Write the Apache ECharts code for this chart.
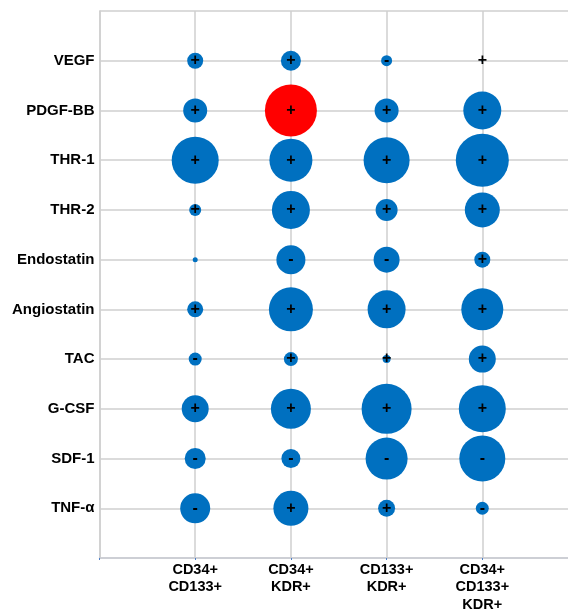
<!DOCTYPE html>
<html>
<head>
<meta charset="utf-8">
<script src="https://cdn.jsdelivr.net/npm/echarts@6/dist/echarts.min.js"></script>
<style>
  html, body { margin: 0; padding: 0; background: #fff; }
  #chart { width: 568px; height: 610px; }
</style>
</head>
<body>
<div id="chart"></div>
<script>
// cell populations (x axis) and angiogenic factors (y axis)
const populations = ["CD34+\nCD133+", "CD34+\nKDR+", "CD133+\nKDR+", "CD34+\nCD133+\nKDR+"];
const factors = ["VEGF", "PDGF-BB", "THR-1", "THR-2", "Endostatin", "Angiostatin", "TAC", "G-CSF", "SDF-1", "TNF-\u03b1"];

// bubble magnitude per population, in factor order
const cd34Cd133 = [16, 24, 47, 12, 5, 16, 13, 27, 21, 30];
const cd34Kdr = [20, 52, 43, 38, 29, 44, 14, 40, 19, 35];
const cd133Kdr = [11, 24, 46, 22, 26, 38, 8, 50, 42, 17];
const cd34Cd133Kdr = [2, 38, 53, 35, 16, 42, 27, 47, 46, 13];

// direction of change per population
const signCd34Cd133 = ["+", "+", "+", "+", "", "+", "-", "+", "-", "-"];
const signCd34Kdr = ["+", "+", "+", "+", "-", "+", "+", "+", "-", "+"];
const signCd133Kdr = ["-", "+", "+", "+", "-", "+", "+", "+", "-", "+"];
const signCd34Cd133Kdr = ["+", "+", "+", "+", "+", "+", "+", "+", "-", "-"];

// [factor index, population index] of the highlighted cell
const highlighted = [[1, 1]];

const magnitudes = [cd34Cd133, cd34Kdr, cd133Kdr, cd34Cd133Kdr];
const signs = [signCd34Cd133, signCd34Kdr, signCd133Kdr, signCd34Cd133Kdr];

const BLUE = "#0070c0";
const RED = "#ff0000";
const FONT = "'Liberation Sans', Arial, Helvetica, sans-serif";

const isHighlighted = (r, c) => highlighted.some(h => h[0] === r && h[1] === c);

const data = [];
magnitudes.forEach((col, c) => {
  col.forEach((v, r) => {
    data.push({
      value: [c + 1, r + 1, v],
      sign: signs[c][r],
      itemStyle: { color: isHighlighted(r, c) ? RED : BLUE, opacity: 1 }
    });
  });
});

const chart = echarts.init(document.getElementById("chart"), null, { renderer: "canvas" });

chart.setOption({
  backgroundColor: "#fff",
  animation: false,
  grid: { left: 99.5, top: 11, width: 478.5, height: 547, outerBoundsMode: "none", containLabel: false },
  xAxis: {
    type: "value",
    position: "bottom",
    min: 0,
    max: 5,
    interval: 1,
    axisLine: { show: true, onZero: false, lineStyle: { color: "#c9ccd3", width: 1.5 } },
    axisTick: { show: true, length: 2, lineStyle: { color: "#4f7fc6", width: 1 } },
    splitLine: { show: true, lineStyle: { color: "#cfcfcf", width: 1.5 } },
    axisLabel: {
      margin: 3,
      color: "#000",
      fontFamily: FONT,
      fontWeight: "bold",
      fontSize: 14.5,
      lineHeight: 17.5,
      formatter: v => populations[v - 1] || ""
    }
  },
  yAxis: {
    type: "value",
    min: 0,
    max: 11,
    interval: 1,
    inverse: true,
    axisLine: { show: true, onZero: false, lineStyle: { color: "#cfcfcf", width: 1.5 } },
    axisTick: { show: false },
    splitLine: { show: true, lineStyle: { color: "#cfcfcf", width: 1.5 } },
    axisLabel: {
      margin: 5,
      color: "#000",
      fontFamily: FONT,
      fontWeight: "bold",
      fontSize: 15,
      formatter: v => factors[v - 1] || ""
    }
  },
  series: [{
    type: "scatter",
    data: data,
    symbol: "circle",
    symbolSize: d => d[2],
    itemStyle: { opacity: 1 },
    label: {
      show: true,
      position: "inside",
      color: "#000",
      fontFamily: FONT,
      fontWeight: "bold",
      fontSize: 16,
      formatter: p => p.data.sign
    }
  }]
});
</script>
</body>
</html>
